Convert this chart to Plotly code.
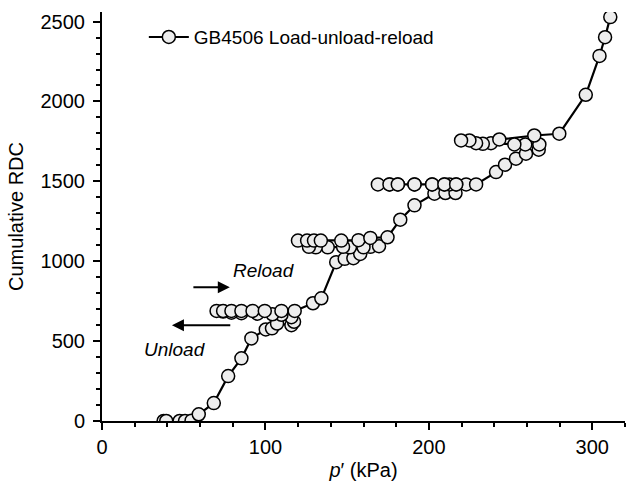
import plotly.graph_objects as go

# Mean effective stress p' (kPa) and cumulative RDC, in test order
p_kpa = [37.7, 39.3, 47.5, 50.8, 54.8, 59.2, 68.4, 77.2, 85.3, 91.4, 100.2, 104.0, 107.1, 115.9, 117.5,
         115.9, 109.8, 104.3, 95.1, 85.3, 79.2, 74.1, 70.1,
         74.1, 79.2, 85.3, 92.1, 99.6, 109.8, 117.9,
         129.1, 134.2, 143.3, 148.5, 153.8, 158.0, 164.2, 169.5,
         160.0, 151.7, 147.5, 138.1, 130.8, 126.6, 119.9,
         125.5, 129.7, 133.9, 146.4, 156.9, 164.2, 174.7,
         182.5, 191.2, 203.4, 210.1, 216.3, 222.8,
         216.7, 212.6, 209.5, 202.0, 191.2, 181.0, 175.9, 168.8,
         175.9, 181.0, 191.2, 202.0, 209.5, 216.7, 228.9,
         241.1, 246.6, 253.3, 259.4, 267.2, 267.6,
         259.0, 252.3, 238.0, 233.0, 228.9, 224.8, 219.7,
         243.1, 264.5,
         279.8, 296.0, 304.4, 307.8, 311.0]
rdc = [0, 0, 0, 0, 2, 42, 112, 281, 392, 517, 573, 580, 610, 600, 621,
       650, 665, 668, 672, 675, 678, 685, 689,
       689, 689, 689, 689, 689, 689, 689,
       737, 768, 994, 1015, 1019, 1046, 1090, 1094,
       1087, 1087, 1090, 1087, 1087, 1090, 1129,
       1129, 1129, 1129, 1129, 1132, 1146, 1150,
       1260, 1350, 1423, 1427, 1427, 1481,
       1481, 1481, 1481, 1481, 1481, 1481, 1481, 1481,
       1481, 1481, 1481, 1481, 1481, 1481, 1481,
       1558, 1604, 1642, 1673, 1698, 1731,
       1731, 1731, 1739, 1735, 1739, 1756, 1756,
       1762, 1787,
       1798, 2042, 2285, 2402, 2528]

series_name = "GB4506 Load-unload-reload"
x_ticks = [0, 100, 200, 300]
y_ticks = [0, 500, 1000, 1500, 2000, 2500]

FONT = "Liberation Sans, Arial, sans-serif"

fig = go.Figure()
fig.add_trace(go.Scatter(
    x=p_kpa, y=rdc, mode="lines+markers", name=series_name,
    line=dict(color="black", width=2.2),
    marker=dict(symbol="circle", size=13, color="#ededed",
                line=dict(color="black", width=1.5)),
))

axis_common = dict(
    showline=True, linecolor="black", linewidth=2,
    showgrid=False, zeroline=False,
    ticks="outside", ticklen=7, tickwidth=2, tickcolor="black",
    tickfont=dict(family=FONT, size=20, color="black"),
)

fig.update_xaxes(
    range=[0, 320], tickvals=x_ticks,
    minor=dict(ticks="outside", dtick=20, ticklen=4, tickwidth=1.5, tickcolor="black"),
    title=dict(text="<i>p</i>′ (kPa)", font=dict(family=FONT, size=20, color="black"), standoff=6),
    **axis_common,
)
fig.update_yaxes(
    range=[0, 2560], tickvals=y_ticks, ticklabelstandoff=4,
    minor=dict(ticks="outside", dtick=100, ticklen=4, tickwidth=1.5, tickcolor="black"),
    title=dict(text="Cumulative RDC", font=dict(family=FONT, size=20, color="black"), standoff=12),
    **axis_common,
)

# Direction arrows and labels
fig.add_annotation(x=78.2, y=837, ax=55.0, ay=837, xref="x", yref="y", axref="x", ayref="y",
                   text="", showarrow=True, arrowhead=2, arrowsize=1.2, arrowwidth=2, arrowcolor="black")
fig.add_annotation(x=99.0, y=944, text="<i>Reload</i>", showarrow=False,
                   font=dict(family=FONT, size=19, color="black"))
fig.add_annotation(x=42.8, y=600, ax=79.4, ay=600, xref="x", yref="y", axref="x", ayref="y",
                   text="", showarrow=True, arrowhead=2, arrowsize=1.2, arrowwidth=2, arrowcolor="black")
fig.add_annotation(x=44.5, y=450, text="<i>Unload</i>", showarrow=False,
                   font=dict(family=FONT, size=19, color="black"))

fig.update_layout(
    width=627, height=492,
    margin=dict(l=102, r=2, t=12, b=71),
    plot_bgcolor="white", paper_bgcolor="white",
    showlegend=True,
    legend=dict(x=0.08, y=0.985, xanchor="left", yanchor="top",
                bgcolor="rgba(0,0,0,0)", itemwidth=40,
                font=dict(family=FONT, size=19, color="black")),
)

fig.write_html("out.html")
